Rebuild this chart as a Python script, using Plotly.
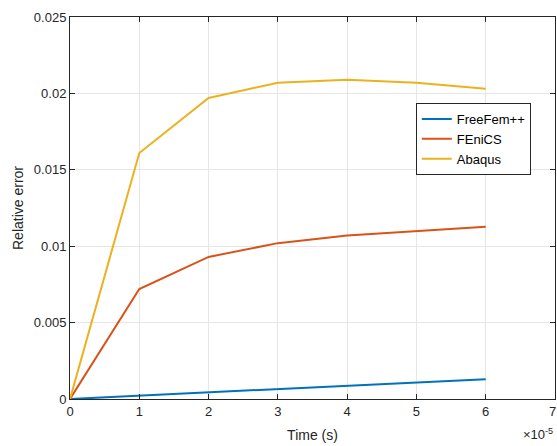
import plotly.graph_objects as go

time_s = [0, 1e-5, 2e-5, 3e-5, 4e-5, 5e-5, 6e-5]
freefem = [0, 0.00022, 0.00045, 0.00067, 0.00088, 0.00109, 0.00130]
fenics = [0, 0.0072, 0.0093, 0.0102, 0.0107, 0.0110, 0.01127]
abaqus = [0, 0.0161, 0.0197, 0.0207, 0.0209, 0.0207, 0.0203]
x_tickvals = [0, 1e-5, 2e-5, 3e-5, 4e-5, 5e-5, 6e-5, 7e-5]
x_ticktext = ["0", "1", "2", "3", "4", "5", "6", "7"]
y_tickvals = [0, 0.005, 0.01, 0.015, 0.02, 0.025]
y_ticktext = ["0", "0.005", "0.01", "0.015", "0.02", "0.025"]

fig = go.Figure()
for name, vals, col in [("FreeFem++", freefem, "#0072BD"),
                        ("FEniCS", fenics, "#D95319"),
                        ("Abaqus", abaqus, "#EDB120")]:
    fig.add_trace(go.Scatter(x=time_s, y=vals, mode="lines", name=name,
                             line=dict(color=col, width=2)))

axis_common = dict(showline=True, linecolor="#262626", linewidth=1, mirror="ticks",
                   ticks="inside", ticklen=5, tickcolor="#262626",
                   showgrid=True, gridcolor="#e6e6e6", gridwidth=1, zeroline=False,
                   tickfont=dict(family="Liberation Sans, Arial", size=13, color="#262626"))

fig.update_layout(
    width=557, height=446,
    margin=dict(l=70, r=2, t=17, b=47),
    paper_bgcolor="white", plot_bgcolor="white",
    font=dict(family="Liberation Sans, Arial", size=13, color="#262626"),
    xaxis=dict(range=[0, 7e-5], tickvals=x_tickvals, ticktext=x_ticktext,
               title=dict(text="Time (s)", standoff=12, font=dict(size=14)), **axis_common),
    yaxis=dict(range=[0, 0.025], tickvals=y_tickvals, ticktext=y_ticktext,
               title=dict(text="Relative error", standoff=6, font=dict(size=14)), **axis_common),
    legend=dict(x=0.713, y=0.775, xanchor="left", yanchor="top",
                bgcolor="white", bordercolor="#262626", borderwidth=1,
                font=dict(size=13, color="#000"), tracegroupgap=0,
                itemwidth=30),
    showlegend=True,
)
# last tick label at the plot's right edge
fig.add_annotation(text=x_ticktext[-1], xref="x", yref="paper", x=x_tickvals[-1], y=0,
                   yshift=-3, xshift=-3, xanchor="center", yanchor="top", showarrow=False,
                   font=dict(size=13, color="#262626"))
fig.add_annotation(text="×10<sup>-5</sup>", xref="paper", yref="paper", x=1.0, y=-0.066,
                   xanchor="right", yanchor="top", showarrow=False,
                   font=dict(size=13, color="#262626"))
fig.write_html("out.html")
